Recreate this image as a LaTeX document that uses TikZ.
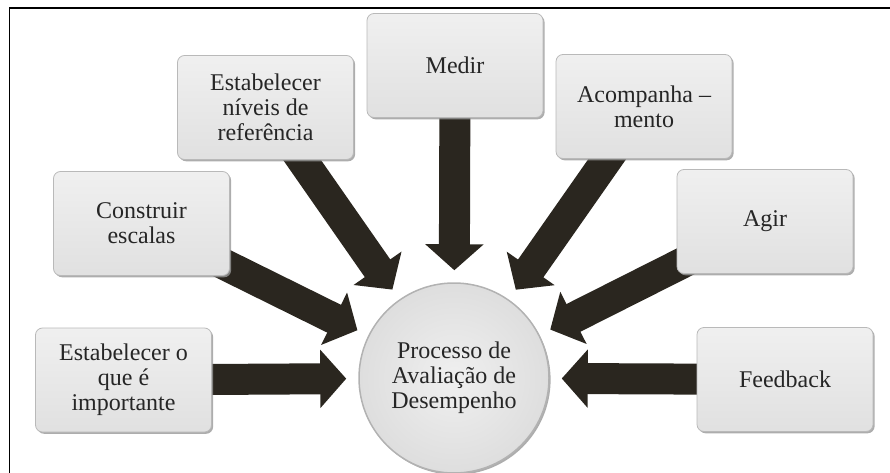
\documentclass[tikz,border=0pt]{standalone}
\usepackage{fontspec}
\setmainfont{Liberation Serif}
\usetikzlibrary{arrows.meta,shadows}
\pgfdeclarelayer{bg}
\pgfsetlayers{bg,main}
\definecolor{arrowc}{HTML}{2A261F}
\tikzset{
  box/.style={rounded corners=7pt, minimum width=176pt, minimum height=104pt,
    top color=gray!12, bottom color=gray!24, draw=gray!55, line width=0.8pt,
    drop shadow={shadow xshift=1.6pt, shadow yshift=-1.8pt, fill=gray!80, opacity=0.8},
    align=center, font=\fontsize{24}{25}\selectfont, text=black!85, inner sep=0pt},
  hub/.style={circle, minimum size=190pt, inner sep=0pt,
    inner color=gray!12, outer color=gray!26, draw=gray!60, line width=1.5pt,
    drop shadow={shadow xshift=1.6pt, shadow yshift=-1.8pt, fill=gray!80, opacity=0.8},
    align=center, font=\fontsize{24}{25}\selectfont, text=black!85},
  bigarrow/.style={line width=31pt, draw=arrowc, -{Triangle[length=26pt,width=57pt]},
    shorten >=12pt, shorten <=-20pt},
  frame/.style={line width=1.8pt, draw=black}
}
\begin{document}
\begin{tikzpicture}[x=1pt,y=-1pt]
\useasboundingbox (0,0) rectangle (890,473);
\draw[frame] (9.5,473) -- (9.5,8) -- (890,8);

\node[hub] (hub) at (454,378) {Processo de\\Avaliação de\\Desempenho};
\node[box] (imp) at (123.5,380) {Estabelecer o\\que é\\importante};
\node[box] (esc) at (141.5,223.5) {Construir\\escalas};
\node[box] (niv) at (265.5,107.5) {Estabelecer\\níveis de\\referência};
\node[box] (med) at (455,65.5) {Medir};
\node[box] (aco) at (644,106.5) {Acompanha –\\mento};
\node[box] (agi) at (765,221.5) {Agir};
\node[box] (fee) at (785,379.5) {Feedback};

\begin{pgfonlayer}{bg}
  \foreach \s in {imp,esc,niv,med,aco,agi,fee}
    \draw[bigarrow] (\s) -- (hub);
\end{pgfonlayer}
\end{tikzpicture}
\end{document}
